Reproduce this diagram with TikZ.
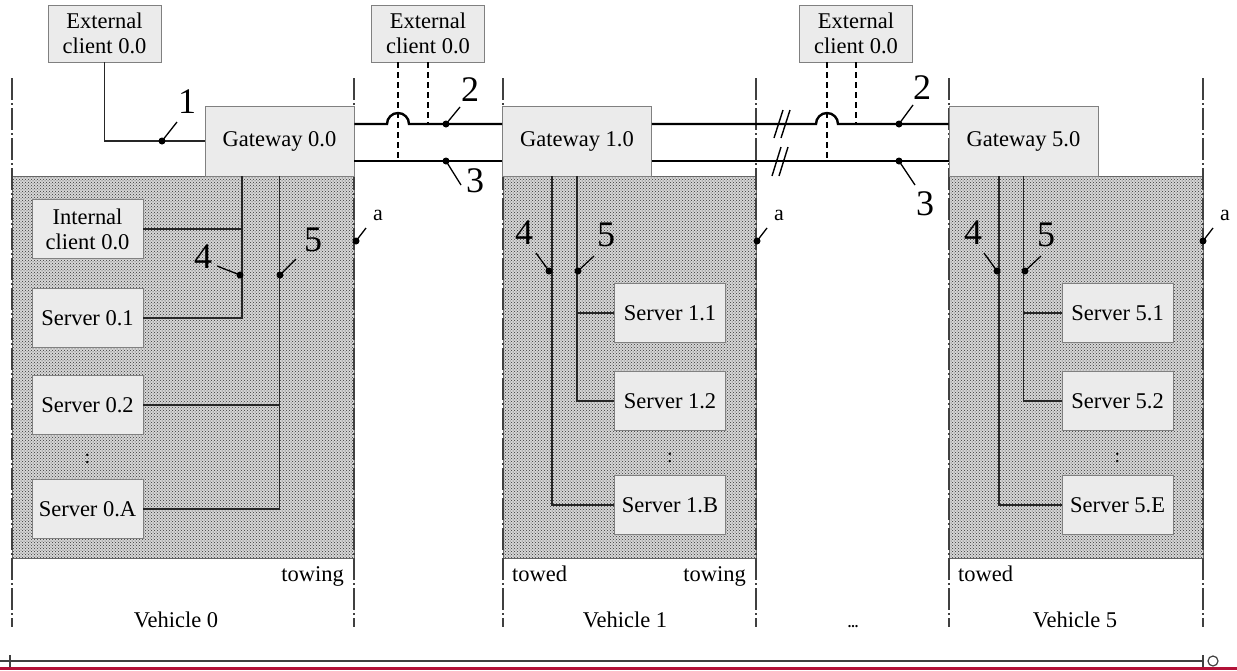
\documentclass[tikz,border=0pt]{standalone}
\usepackage{fontspec}
\setmainfont{Liberation Serif}
\usetikzlibrary{patterns}
\definecolor{rulered}{RGB}{178,18,56}
\begin{document}
\begin{tikzpicture}[x=1pt,y=-1pt,
  box/.style={draw=black!50, fill=black!8, line width=0.8pt, inner sep=0pt, align=center,
    font=\fontsize{22.5}{25}\selectfont},
  extbox/.style={box, minimum width=113pt, minimum height=57pt},
  gwbox/.style={box, minimum width=149pt, minimum height=70pt},
  srvbox/.style={box, minimum width=111pt, minimum height=59pt},
  lbl/.style={inner sep=0pt, font=\fontsize{22.5}{25}\selectfont},
  num/.style={inner sep=0pt, font=\fontsize{36}{40}\selectfont},
  small/.style={inner sep=0pt, font=\fontsize{22}{22}\selectfont},
  wire/.style={line width=1.2pt, black!85},
  bus/.style={line width=2.4pt, black},
  dashwire/.style={line width=2.4pt, black, dash pattern=on 6pt off 4pt},
  lead/.style={line width=1.3pt, black},
  dashdot/.style={line width=1.1pt, black!75, dash pattern=on 22pt off 3pt on 2pt off 3pt},
  shade/.style={pattern=crosshatch dots, pattern color=black!80},
  dotmark/.style={fill=black}
]
\useasboundingbox (0,0) rectangle (1237,670);

% shaded vehicle areas
\foreach \a/\b in {12/354, 503/756, 949/1203}{
  \fill[black!16] (\a,176) rectangle (\b,558);
  \path[shade] (\a,176) rectangle (\b,558);
  \draw[black!60, line width=0.8pt] (\a,176) rectangle (\b,558);
}

% dash-dot vehicle boundaries
\foreach \x in {12,354,503,756,949,1203}{
  \draw[dashdot] (\x,78) -- (\x,627);
}

% external clients
\node[extbox] (ec0) at (104.5,33.5) {External\\client 0.0};
\node[extbox] (ec1) at (428,33.5) {External\\client 0.0};
\node[extbox] (ec2) at (856,33.5) {External\\client 0.0};

% gateways
\node[gwbox] (gw0) at (279.5,141) {Gateway 0.0};
\node[gwbox] (gw1) at (577,141) {Gateway 1.0};
\node[gwbox] (gw5) at (1023.5,141) {Gateway 5.0};

% vehicle 0 devices
\node[srvbox] (ic0) at (87.5,229) {Internal\\client 0.0};
\node[srvbox] (s01) at (87.5,318) {Server 0.1};
\node[srvbox] (s02) at (87.5,405) {Server 0.2};
\node[srvbox] (s0A) at (87.5,509) {Server 0.A};
\node[lbl] (vd0) at (87.5,459) {\fontsize{20}{20}\selectfont :};

% vehicle 1 devices
\node[srvbox] (s11) at (670,313) {Server 1.1};
\node[srvbox] (s12) at (670,401) {Server 1.2};
\node[srvbox] (s1B) at (670,505) {Server 1.B};
\node[lbl] (vd1) at (670,458) {\fontsize{20}{20}\selectfont :};

% vehicle 5 devices
\node[srvbox] (s51) at (1117.5,313) {Server 5.1};
\node[srvbox] (s52) at (1117.5,401) {Server 5.2};
\node[srvbox] (s5E) at (1117.5,505) {Server 5.E};
\node[lbl] (vd5) at (1117.5,458) {\fontsize{20}{20}\selectfont :};

% connection 1
\draw[wire] (ec0.south) |- (gw0.west);

% dashed external client links
\draw[dashwire] ([xshift=-30pt]ec1.south) -- ++(0,99);
\draw[dashwire] (ec1.south) -- ++(0,62);
\draw[dashwire] ([xshift=-29pt]ec2.south) -- ++(0,99);
\draw[dashwire] (ec2.south) -- ++(0,62);

% trunk lines 2 and 3
\draw[bus] (gw0.east |- 0,124) -- (387,124) arc[start angle=180, end angle=0, radius=11pt] -- (gw1.west |- 0,124);
\draw[bus] (gw0.east |- 0,161) -- (gw1.west |- 0,161);
\draw[bus] (gw1.east |- 0,124) -- (816,124) arc[start angle=180, end angle=0, radius=11pt] -- (gw5.west |- 0,124);
\draw[bus] (gw1.east |- 0,161) -- (gw5.west |- 0,161);
% break marks
\draw[line width=1.4pt] (774,138) -- (783,110);
\draw[line width=1.4pt] (781,138) -- (790,110);
\draw[line width=1.4pt] (772,176) -- (781,147);
\draw[line width=1.4pt] (779,176) -- (788,147);

% vehicle 0 buses
\draw[wire] (ic0.east) -- ++(99,0);
\draw[wire] (s01.east) -| ([xshift=-37.5pt]gw0.south);
\draw[wire] (s02.east) -| (gw0.south);
\draw[wire] (s0A.east) -| (gw0.south);

% vehicle 1 buses
\draw[wire] (s11.west) -| (gw1.south);
\draw[wire] (s12.west) -| (gw1.south);
\draw[wire] (s1B.west) -| ([xshift=-25pt]gw1.south);

% vehicle 5 buses
\draw[wire] (s51.west) -| (gw5.south);
\draw[wire] (s52.west) -| (gw5.south);
\draw[wire] (s5E.west) -| ([xshift=-24.5pt]gw5.south);

% reference labels
\coordinate (d1) at (162,141);
\fill[dotmark] (d1) circle[radius=3.5pt];
\draw[lead] (d1) -- ++(15,-19);
\node[num] (n1) at (187,102) {1};

\coordinate (d2a) at (446,124);
\fill[dotmark] (d2a) circle[radius=3.5pt];
\draw[lead] (d2a) -- ++(14,-17);
\node[num] (n2a) at (470,90) {2};
\coordinate (d3a) at (446,161);
\fill[dotmark] (d3a) circle[radius=3.5pt];
\draw[lead] (d3a) -- ++(15,24);
\node[num] (n3a) at (475,181) {3};

\coordinate (d2b) at (899,124);
\fill[dotmark] (d2b) circle[radius=3.5pt];
\draw[lead] (d2b) -- ++(14,-19);
\node[num] (n2b) at (922,88) {2};
\coordinate (d3b) at (899,161);
\fill[dotmark] (d3b) circle[radius=3.5pt];
\draw[lead] (d3b) -- ++(16,24);
\node[num] (n3b) at (925,204) {3};

\coordinate (d40) at (240,275);
\fill[dotmark] (d40) circle[radius=3.5pt];
\draw[lead] (d40) -- ++(-23,-9);
\node[num] (n40) at (203,257) {4};
\coordinate (d50) at (280,275);
\fill[dotmark] (d50) circle[radius=3.5pt];
\draw[lead] (d50) -- ++(16,-16);
\node[num] (n50) at (313,240) {5};

\coordinate (d41) at (549,271);
\fill[dotmark] (d41) circle[radius=3.5pt];
\draw[lead] (d41) -- ++(-13,-18);
\node[num] (n41) at (524,233) {4};
\coordinate (d51) at (578,271);
\fill[dotmark] (d51) circle[radius=3.5pt];
\draw[lead] (d51) -- ++(16,-15);
\node[num] (n51) at (606,235) {5};

\coordinate (d45) at (997,271);
\fill[dotmark] (d45) circle[radius=3.5pt];
\draw[lead] (d45) -- ++(-13,-18);
\node[num] (n45) at (973,233) {4};
\coordinate (d55) at (1025,271);
\fill[dotmark] (d55) circle[radius=3.5pt];
\draw[lead] (d55) -- ++(16,-15);
\node[num] (n55) at (1046,235) {5};

% 'a' labels
\foreach \x/\n in {356/a0, 757/a1, 1203/a5}{
  \coordinate (d\n) at (\x,241);
  \fill[dotmark] (d\n) circle[radius=3.5pt];
  \draw[lead] (d\n) -- ++(10,-13);
  \node[small] (l\n) at (\x+22,215) {a};
}

% towing / towed / vehicle labels
\node[lbl, anchor=base east] (tw0) at (344,581) {towing};
\node[lbl, anchor=base west] (td1) at (512,581) {towed};
\node[lbl, anchor=base east] (tw1) at (746,581) {towing};
\node[lbl, anchor=base west] (td5) at (958,581) {towed};
\node[lbl, anchor=base] (v0) at (176,627) {Vehicle 0};
\node[lbl, anchor=base] (v1) at (625,627) {Vehicle 1};
\node[lbl, anchor=base] (vdots) at (853,627) {\fontsize{14}{14}\selectfont\bfseries ...};
\node[lbl, anchor=base] (v5) at (1075,627) {Vehicle 5};

% bottom rules
\draw[line width=1.2pt, black!75] (0,661) -- (1203,661);
\draw[line width=1.2pt, black!75] (10,655) -- (10,667);
\draw[line width=1.2pt, black!75] (1203,655) -- (1203,667);
\draw[line width=1.2pt, black!75] (1213,661) circle[radius=5pt];
\fill[rulered] (0,666.5) rectangle (1237,670);
\end{tikzpicture}
\end{document}
